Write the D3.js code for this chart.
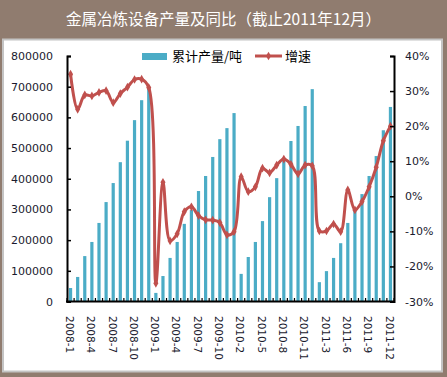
<!DOCTYPE html>
<html>
<head>
<meta charset="utf-8">
<script src="https://cdn.jsdelivr.net/npm/d3@7"></script>
<style>
  body { margin: 0; background: #fff; }
  svg { display: block; }
</style>
</head>
<body>
<svg id="chart" width="447" height="377"></svg>
<script>
const categories = [
    "2008-1", "2008-2", "2008-3", "2008-4", "2008-5", "2008-6", "2008-7", "2008-8", "2008-9", "2008-10", "2008-11", "2008-12",
    "2009-1", "2009-2", "2009-3", "2009-4", "2009-5", "2009-6", "2009-7", "2009-8", "2009-9", "2009-10", "2009-11", "2009-12",
    "2010-2", "2010-3", "2010-4", "2010-5", "2010-6", "2010-7", "2010-8", "2010-9", "2010-10", "2010-11", "2010-12",
    "2011-2", "2011-3", "2011-4", "2011-5", "2011-6", "2011-7", "2011-8", "2011-9", "2011-10", "2011-11", "2011-12"
];

// 累计产量/吨
const output = [
    44000, 80000, 148000, 194000, 256000, 324000, 386000, 454000, 524000, 591000, 656000, 694000,
    28000, 83000, 142000, 194000, 253000, 298000, 360000, 409000, 471000, 529000, 565000, 614000,
    90000, 145000, 194000, 262000, 340000, 402000, 461000, 523000, 572000, 637000, 692000,
    63000, 99000, 142000, 190000, 256000, 298000, 350000, 409000, 474000, 558000, 634000
];

// 增速 (%)
const growth = [
    34.8, 24.8, 28.9, 28.6, 29.6, 30.1, 26.7, 29.3, 31.1, 33.3, 33.4, 31.0,
    -24.8, 4.0, -12.7, -10.7, -4.4, -3.0, -5.5, -6.7, -6.8, -7.5, -11.0, -10.1,
    5.6, 1.3, 2.7, 8.0, 6.7, 8.9, 10.6, 9.1, 6.4, 8.9, 8.7,
    -9.9, -9.9, -7.9, -10.1, 1.8, -3.9, -1.5, 2.7, 8.3, 15.8, 20.0
];

const leftTicks = [0, 100000, 200000, 300000, 400000, 500000, 600000, 700000, 800000];
const rightTicks = [-30, -20, -10, 0, 10, 20, 30, 40];
const xTickLabels = categories.filter((d, i) => i % 3 === 0);

const title = "金属冶炼设备产量及同比（截止2011年12月）";
const barName = "累计产量/吨";
const lineName = "增速";

const barColor = "#4BACC6";
const lineColor = "#C0504D";
const textColor = "#1a1a2e";

const svg = d3.select("#chart");
const width = +svg.attr("width");
const height = +svg.attr("height");

const plot = { left: 67, right: 394, top: 56, bottom: 301.5 };

// frame
svg.append("rect")
    .attr("width", width)
    .attr("height", height)
    .attr("fill", "#907C6F");

svg.append("rect")
    .attr("x", 3)
    .attr("y", 39.5)
    .attr("width", 439)
    .attr("height", 332)
    .attr("fill", "#fff")
    .attr("stroke", "#c4c4c4")
    .attr("stroke-width", 2);

svg.append("text")
    .attr("x", width / 2)
    .attr("y", 25)
    .attr("text-anchor", "middle")
    .attr("fill", "#fff")
    .style("font-family", "'Noto Sans CJK SC', sans-serif")
    .style("font-size", "15.5px")
    .text(title);

const x = d3.scaleBand()
    .domain(categories)
    .range([plot.left, plot.right])
    .paddingInner(0.55)
    .paddingOuter(0.275);

const yLeft = d3.scaleLinear()
    .domain([0, 800000])
    .range([plot.bottom, plot.top]);

const yRight = d3.scaleLinear()
    .domain([-30, 40])
    .range([plot.bottom, plot.top]);

// bars
svg.append("g")
    .selectAll("rect")
    .data(output)
    .join("rect")
    .attr("x", (d, i) => x(categories[i]))
    .attr("y", d => yLeft(d))
    .attr("width", x.bandwidth())
    .attr("height", d => yLeft(0) - yLeft(d))
    .attr("fill", barColor);

// line
const cx = i => x(categories[i]) + x.bandwidth() / 2;
const line = d3.line()
    .x((d, i) => cx(i))
    .y(d => yRight(d))
    .curve(d3.curveCatmullRom.alpha(0.5));

svg.append("path")
    .datum(growth)
    .attr("fill", "none")
    .attr("stroke", lineColor)
    .attr("stroke-width", 3)
    .attr("stroke-linejoin", "round")
    .attr("d", line);

const diamond = d3.symbol().type(d3.symbolDiamond).size(22);
svg.append("g")
    .selectAll("path")
    .data(growth)
    .join("path")
    .attr("transform", (d, i) => `translate(${cx(i)},${yRight(d)})`)
    .attr("d", diamond)
    .attr("fill", lineColor);

// axes
const axisFont = g => g.selectAll("text")
    .attr("fill", textColor)
    .style("font-family", "'DejaVu Sans', sans-serif")
    .style("font-size", "11px");

svg.append("g")
    .attr("transform", `translate(${plot.left},0)`)
    .call(d3.axisLeft(yLeft).tickValues(leftTicks).tickSize(-4).tickPadding(14).tickFormat(d3.format("d")))
    .call(g => g.select(".domain").attr("stroke", "#000").attr("stroke-width", 2))
    .call(g => g.selectAll(".tick line").attr("stroke", "#000").attr("stroke-width", 1.5))
    .call(axisFont);

svg.append("g")
    .attr("transform", `translate(${plot.right},0)`)
    .call(d3.axisRight(yRight).tickValues(rightTicks).tickSize(-4).tickPadding(11).tickFormat(d => d + "%"))
    .call(g => g.select(".domain").attr("stroke", "#000").attr("stroke-width", 2))
    .call(g => g.selectAll(".tick line").attr("stroke", "#000").attr("stroke-width", 1.5))
    .call(axisFont);

// category axis: ticks sit between categories
const xAxis = svg.append("g");
xAxis.append("line")
    .attr("x1", plot.left - 1)
    .attr("x2", plot.right + 1)
    .attr("y1", plot.bottom)
    .attr("y2", plot.bottom)
    .attr("stroke", "#000")
    .attr("stroke-width", 2);

xAxis.selectAll(".tk")
    .data(d3.range(categories.length + 1))
    .join("line")
    .attr("class", "tk")
    .attr("x1", i => plot.left + i * x.step())
    .attr("x2", i => plot.left + i * x.step())
    .attr("y1", plot.bottom)
    .attr("y2", plot.bottom - 3.5)
    .attr("stroke", "#000")
    .attr("stroke-width", 1.2);

xAxis.selectAll("text")
    .data(xTickLabels)
    .join("text")
    .attr("transform", d => `translate(${x(d) + x.bandwidth() / 2 - 1},316) rotate(90)`)
    .attr("dy", "0.35em")
    .attr("fill", textColor)
    .style("font-family", "'DejaVu Sans', sans-serif")
    .style("font-size", "10.5px")
    .text(d => d);

// legend
const legend = svg.append("g")
    .style("font-family", "'Noto Sans CJK SC', sans-serif")
    .style("font-size", "13px");

legend.append("rect")
    .attr("x", 142)
    .attr("y", 53)
    .attr("width", 25)
    .attr("height", 7)
    .attr("fill", barColor);

legend.append("text")
    .attr("x", 172)
    .attr("y", 61)
    .attr("fill", "#000")
    .text(barName);

legend.append("line")
    .attr("x1", 255)
    .attr("x2", 282)
    .attr("y1", 56)
    .attr("y2", 56)
    .attr("stroke", lineColor)
    .attr("stroke-width", 3);

legend.append("path")
    .attr("transform", "translate(268.5,56)")
    .attr("d", diamond)
    .attr("fill", lineColor);

legend.append("text")
    .attr("x", 285)
    .attr("y", 61)
    .attr("fill", "#000")
    .text(lineName);
</script>
</body>
</html>
